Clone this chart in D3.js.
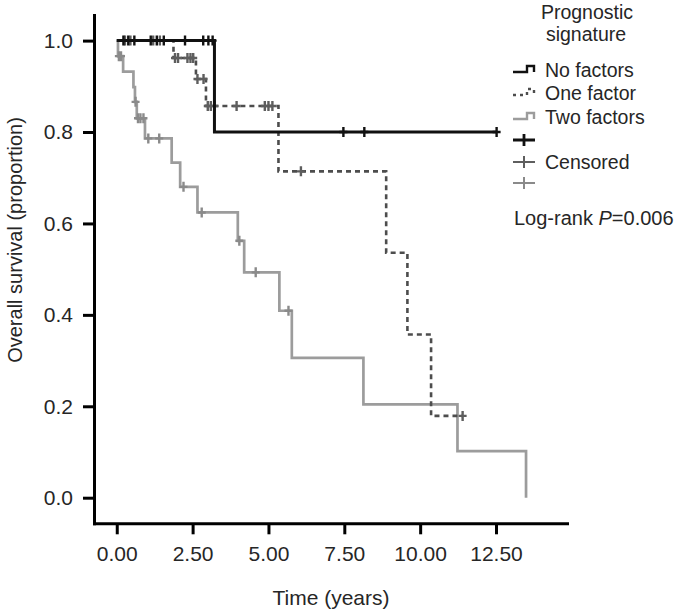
<!DOCTYPE html>
<html>
<head>
<meta charset="utf-8">
<script src="https://cdn.jsdelivr.net/npm/d3@7"></script>
<style>
  body { margin: 0; background: #fff; }
  svg { display: block; font-family: "Liberation Sans", Arial, sans-serif; }
  text { fill: #262626; }
</style>
</head>
<body>
<svg id="chart" width="679" height="612"></svg>
<script>
// step curves (time in years, survival proportion after the step)
const noFactorsTime = [0, 3.22, 12.52];
const noFactorsSurv = [1.0, 0.8, 0.8];
const noFactorsCensor = [0.22, 0.38, 0.58, 1.12, 1.32, 1.55, 2.25, 2.85, 3.02, 3.16, 7.47, 8.16, 12.52];

const oneFactorTime = [0, 1.87, 2.61, 2.94, 5.33, 8.88, 9.58, 10.36, 11.4];
const oneFactorSurv = [1.0, 0.962, 0.916, 0.857, 0.714, 0.536, 0.357, 0.179, 0.179];
const oneFactorCensor = [0.27, 0.45, 1.2, 1.42, 1.92, 2.02, 2.33, 2.43, 2.52, 2.66, 2.86,
  3.0, 3.1, 3.22, 3.95, 4.88, 5.0, 5.13, 6.07, 11.4];

const twoFactorsTime = [0, 0.04, 0.21, 0.55, 0.6, 0.66, 0.93, 1.81, 2.09, 2.66, 3.99, 4.2, 5.36, 5.77, 8.13, 11.23, 13.49];
const twoFactorsSurv = [1.0, 0.966, 0.932, 0.898, 0.866, 0.830, 0.786, 0.733, 0.680, 0.624, 0.562, 0.493, 0.409, 0.306, 0.204, 0.102, 0.0];
const twoFactorsCensor = [0.07, 0.14, 0.62, 0.7, 0.78, 0.88, 1.04, 1.4, 2.2, 2.8, 4.04, 4.58, 5.66];

const xTicks = [0, 2.5, 5, 7.5, 10, 12.5];
const yTicks = [0, 0.2, 0.4, 0.6, 0.8, 1.0];
const legendLabels = ['No factors', 'One factor', 'Two factors'];

const svg = d3.select('#chart');

const x = d3.scaleLinear().domain([-0.75, 14.84]).range([94, 567]);
const y = d3.scaleLinear().domain([-0.056, 1.056]).range([523.3, 15]);

// axes
const xAxis = svg.append('g')
  .attr('transform', `translate(0,${y.range()[0]})`)
  .call(d3.axisBottom(x).tickValues(xTicks).tickFormat(d3.format('.2f'))
    .tickSize(11).tickSizeOuter(0).tickPadding(12));

const yAxis = svg.append('g')
  .attr('transform', `translate(${x.range()[0]},0)`)
  .call(d3.axisLeft(y).tickValues(yTicks).tickFormat(d3.format('.1f'))
    .tickSize(11).tickSizeOuter(0).tickPadding(10));

[xAxis, yAxis].forEach(g => {
  g.select('.domain').attr('stroke', '#000').attr('stroke-width', 3).attr('stroke-linecap', 'square');
  g.selectAll('.tick line').attr('stroke', '#000').attr('stroke-width', 3);
  g.selectAll('.tick text').attr('font-size', 21).attr('font-family', '"Liberation Sans", Arial, sans-serif')
    .style('fill', '#262626');
});

svg.append('text')
  .attr('x', 331).attr('y', 605)
  .attr('text-anchor', 'middle').attr('font-size', 21)
  .text('Time (years)');

svg.append('text')
  .attr('transform', 'translate(22,240) rotate(-90)')
  .attr('text-anchor', 'middle').attr('font-size', 20)
  .text('Overall survival (proportion)');

// survival step lines
const series = [
  { time: noFactorsTime, surv: noFactorsSurv, censor: noFactorsCensor, color: '#111', mark: '#111', dash: null, width: 3 },
  { time: oneFactorTime, surv: oneFactorSurv, censor: oneFactorCensor, color: '#4d4d4d', mark: '#5e5e5e', dash: '5,4', width: 2.6 },
  { time: twoFactorsTime, surv: twoFactorsSurv, censor: twoFactorsCensor, color: '#9c9c9c', mark: '#8a8a8a', dash: null, width: 2.7 }
];

const line = d3.line()
  .x(d => x(d[0]))
  .y(d => y(d[1]))
  .curve(d3.curveStepAfter);

const survAt = (s, t) => s.surv[Math.max(0, d3.bisectRight(s.time, t) - 1)];

// draw back to front: two factors, one factor, no factors
series.slice().reverse().forEach(s => {
  svg.append('path')
    .datum(s.time.map((t, i) => [t, s.surv[i]]))
    .attr('fill', 'none')
    .attr('stroke', s.color)
    .attr('stroke-width', s.width)
    .attr('stroke-dasharray', s.dash)
    .attr('d', line);

  svg.append('g').selectAll('path')
    .data(s.censor)
    .enter()
    .append('path')
    .attr('d', t => {
      const cx = x(t), cy = y(survAt(s, t));
      return `M${cx - 4},${cy}H${cx + 4}M${cx},${cy - 5}V${cy + 5}`;
    })
    .attr('stroke', s.mark)
    .attr('stroke-width', 2.4);
});

// legend
const legend = svg.append('g');
legend.append('text').attr('x', 587).attr('y', 19).attr('text-anchor', 'middle')
  .attr('font-size', 19.5).text('Prognostic');
legend.append('text').attr('x', 586).attr('y', 41).attr('text-anchor', 'middle')
  .attr('font-size', 19.5).text('signature');

const rowY = [70, 93, 117];
series.forEach((s, i) => {
  const cy = rowY[i];
  legend.append('path')
    .attr('d', `M513,${cy + 2}H527V${cy - 4}H534V${cy + 2}`)
    .attr('fill', 'none')
    .attr('stroke', s.color)
    .attr('stroke-width', 2.4)
    .attr('stroke-dasharray', s.dash ? '3,4' : null);
  legend.append('text').attr('x', 545).attr('y', cy + 7)
    .attr('font-size', 19.5).text(legendLabels[i]);
});

const markY = [140, 162, 183];
series.forEach((s, i) => {
  const cy = markY[i];
  legend.append('path')
    .attr('d', `M513,${cy}H535M524,${cy - 6}V${cy + 6}`)
    .attr('stroke', s.mark)
    .attr('stroke-width', i === 0 ? 2.8 : 2);
});
legend.append('text').attr('x', 545).attr('y', 169).attr('font-size', 19.5).text('Censored');

const pv = legend.append('text').attr('x', 514).attr('y', 225).attr('font-size', 20);
pv.append('tspan').text('Log-rank ');
pv.append('tspan').attr('font-style', 'italic').text('P');
pv.append('tspan').text('=0.006');
</script>
</body>
</html>
